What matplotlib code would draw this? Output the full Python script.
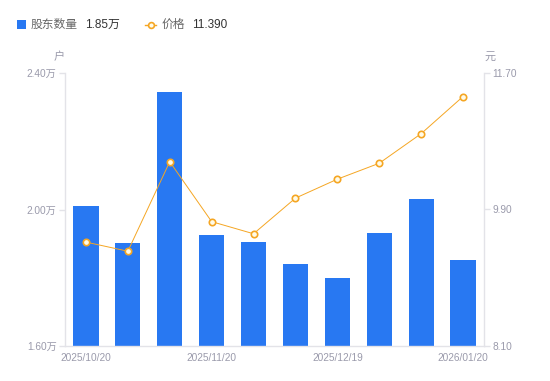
import matplotlib
matplotlib.use("Agg")
import matplotlib.pyplot as plt
from matplotlib.lines import Line2D
from matplotlib.patches import Rectangle

plt.rcParams['font.family'] = ['Liberation Sans', 'Noto Sans CJK SC', 'DejaVu Sans']

dates = ["2025/10/20", "2025/10/31", "2025/11/10", "2025/11/20", "2025/11/28",
         "2025/12/10", "2025/12/19", "2025/12/31", "2026/01/09", "2026/01/20"]
holders = [2.010, 1.902, 2.344, 1.925, 1.905, 1.840, 1.799, 1.931, 2.031, 1.852]  # 万户
prices = [9.47, 9.35, 10.53, 9.74, 9.58, 10.05, 10.30, 10.51, 10.90, 11.39]
left_ticks = [1.60, 2.00, 2.40]
right_ticks = [8.10, 9.90, 11.70]
shown_labels = [0, 3, 6, 9]

BAR = '#2878F2'
LINE = '#F5A623'
TICK = '#9a9aab'
AXC = '#e3e3e8'

fig = plt.figure(figsize=(5.5, 3.81), dpi=100)
ax = fig.add_axes([65/550, 35/381, 419/550, 273/381])
ax2 = ax.twinx()

x = list(range(len(dates)))
ax.bar(x, holders, width=0.6, color=BAR, zorder=2)
ax.set_xlim(-0.5, len(dates) - 0.5)
ax.set_ylim(left_ticks[0], left_ticks[-1])
ax.set_yticks(left_ticks)
ax.set_yticklabels([f"{v:.2f}万" for v in left_ticks])
ax.set_xticks([x[i] for i in shown_labels])
ax.set_xticklabels([dates[i] for i in shown_labels])

ax2.plot(x, prices, color=LINE, lw=0.7, marker='o', ms=4.6, mfc='#fffbe8',
         mec=LINE, mew=1.2, zorder=3)
ax2.set_ylim(right_ticks[0], right_ticks[-1])
ax2.set_yticks(right_ticks)
ax2.set_yticklabels([f"{v:.2f}" for v in right_ticks])

for a in (ax, ax2):
    a.spines['top'].set_visible(False)
    for s in ('left', 'right', 'bottom'):
        a.spines[s].set_color(AXC)
        a.spines[s].set_linewidth(1)
    a.tick_params(colors=AXC, labelcolor=TICK, labelsize=7.3, length=4, width=1)
ax.tick_params(axis='x', length=0, pad=5)
ax.tick_params(axis='y', pad=2)
ax2.tick_params(axis='y', pad=2)
ax.spines['right'].set_visible(False)
ax2.spines['left'].set_visible(False)
ax2.spines['bottom'].set_visible(False)

fig.text(59/550, 1 - 57/381, "户", color=TICK, fontsize=8, ha='center', va='center')
fig.text(490/550, 1 - 57/381, "元", color=TICK, fontsize=8, ha='center', va='center')

# legend
fig.patches.append(Rectangle((17/550, 1 - 29/381), 9/550, 9/381, transform=fig.transFigure,
                             facecolor=BAR, edgecolor='none'))
fig.text(31/550, 1 - 24.5/381, "股东数量", color='#666666', fontsize=8.5, va='center')
fig.text(85/550, 1 - 24.5/381, f"{holders[-1]:.2f}万", color='#333333', fontsize=8.5, va='center')
fig.lines.append(Line2D([145/550, 156/550], [1 - 24.5/381] * 2, transform=fig.transFigure,
                        color=LINE, lw=1))
fig.lines.append(Line2D([150.5/550], [1 - 24.5/381], transform=fig.transFigure,
                        color=LINE, marker='o', ms=4.2, mfc='#fffbe8', mec=LINE, mew=1.2, lw=0))
fig.text(162/550, 1 - 24.5/381, "价格", color='#666666', fontsize=8.5, va='center')
fig.text(192/550, 1 - 24.5/381, f"{prices[-1]:.3f}", color='#333333', fontsize=8.5, va='center')

fig.savefig("out.png", dpi=100)
